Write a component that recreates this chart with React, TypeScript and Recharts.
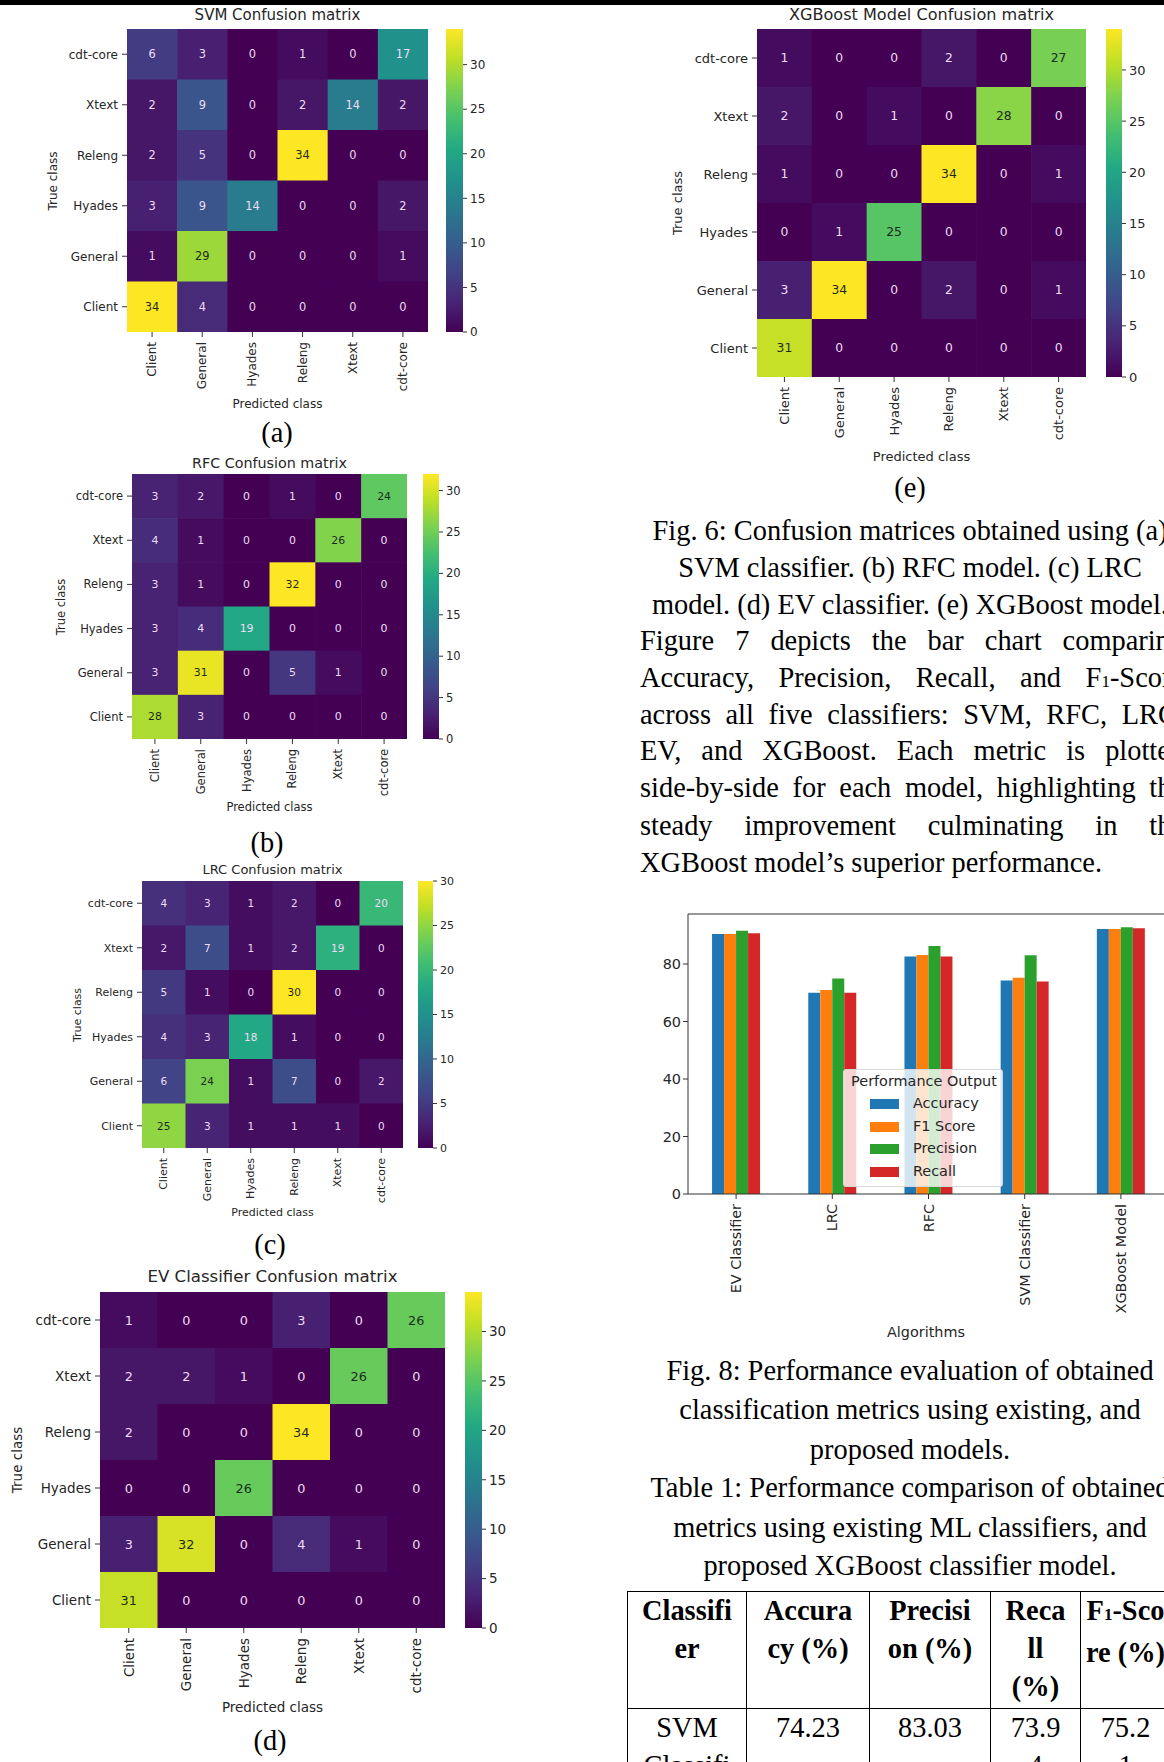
import React from 'react';
import { ScatterChart, Scatter, XAxis, YAxis, BarChart, Bar, ReferenceLine, Legend } from 'recharts';

// class order along the predicted axis (left to right) and the true axis (bottom to top)
const classes = ['Client', 'General', 'Hyades', 'Releng', 'Xtext', 'cdt-core'];

// confusion matrices, rows from top to bottom: cdt-core, Xtext, Releng, Hyades, General, Client
const svmMatrix = [
    [6, 3, 0, 1, 0, 17],
    [2, 9, 0, 2, 14, 2],
    [2, 5, 0, 34, 0, 0],
    [3, 9, 14, 0, 0, 2],
    [1, 29, 0, 0, 0, 1],
    [34, 4, 0, 0, 0, 0],
];
const rfcMatrix = [
    [3, 2, 0, 1, 0, 24],
    [4, 1, 0, 0, 26, 0],
    [3, 1, 0, 32, 0, 0],
    [3, 4, 19, 0, 0, 0],
    [3, 31, 0, 5, 1, 0],
    [28, 3, 0, 0, 0, 0],
];
const lrcMatrix = [
    [4, 3, 1, 2, 0, 20],
    [2, 7, 1, 2, 19, 0],
    [5, 1, 0, 30, 0, 0],
    [4, 3, 18, 1, 0, 0],
    [6, 24, 1, 7, 0, 2],
    [25, 3, 1, 1, 1, 0],
];
const evMatrix = [
    [1, 0, 0, 3, 0, 26],
    [2, 2, 1, 0, 26, 0],
    [2, 0, 0, 34, 0, 0],
    [0, 0, 26, 0, 0, 0],
    [3, 32, 0, 4, 1, 0],
    [31, 0, 0, 0, 0, 0],
];
const xgbMatrix = [
    [1, 0, 0, 2, 0, 27],
    [2, 0, 1, 0, 28, 0],
    [1, 0, 0, 34, 0, 1],
    [0, 1, 25, 0, 0, 0],
    [3, 34, 0, 2, 0, 1],
    [31, 0, 0, 0, 0, 0],
];

// bar chart (Fig. 8)
const algorithms = ['EV Classifier', 'LRC', 'RFC', 'SVM Classifier', 'XGBoost Model'];
const accuracy = [90.4, 70.0, 82.6, 74.23, 92.2];
const f1Score = [90.4, 71.0, 83.1, 75.21, 92.2];
const precision = [91.6, 75.0, 86.3, 83.03, 92.8];
const recall = [90.7, 70.0, 82.6, 73.94, 92.4];

// table 1 (visible part)
const tableHeader = [['Classifi', 'er'], ['Accura', 'cy (%)'], ['Precisi', 'on (%)'], ['Reca', 'll', '(%)'], ['F₁-Sco', 're (%)']];
const tableRow = [['SVM', 'Classifi', 'er'], ['74.23'], ['83.03'], ['73.9', '4'], ['75.2', '1']];

const SANS = '"DejaVu Sans", sans-serif';
const SERIF = '"Liberation Serif", "Times New Roman", serif';
const INK = '#262626';

const VIRIDIS = ['#440154', '#482475', '#414487', '#355f8d', '#2a788e', '#21918c', '#22a884', '#44bf70', '#7ad151', '#bddf26', '#fde725'];

const hex = (c: string) => [1, 3, 5].map((i) => parseInt(c.slice(i, i + 2), 16));

function viridis(t: number) {
    const s = Math.max(0, Math.min(1, t)) * 10;
    const i = Math.min(9, Math.floor(s));
    const f = s - i;
    const a = hex(VIRIDIS[i]);
    const b = hex(VIRIDIS[i + 1]);
    return a.map((v, k) => Math.round(v + (b[k] - v) * f));
}

function luminance(rgb: number[]) {
    const lin = rgb.map((v) => {
        const c = v / 255;
        return c <= 0.03928 ? c / 12.92 : Math.pow((c + 0.055) / 1.055, 2.4);
    });
    return 0.2126 * lin[0] + 0.7152 * lin[1] + 0.0722 * lin[2];
}

const idx = [0, 1, 2, 3, 4, 5];

const HeatCell = (props: any) => {
    const { cx, cy, cw, ch, vmax, fs, payload } = props;
    const rgb = viridis(payload.v / vmax);
    const dark = luminance(rgb) > 0.408;
    return (
        <g>
            <rect x={cx - cw / 2} y={cy - ch / 2} width={cw + 0.6} height={ch + 0.6} fill={`rgb(${rgb.join(',')})`} />
            <text x={cx} y={cy} textAnchor="middle" dominantBaseline="central" fontSize={fs} fontFamily={SANS} fill={dark ? '#1e2b1e' : '#f0dcf6'}>
                {payload.v}
            </text>
        </g>
    );
};

const RotTick = (props: any) => {
    const { x, y, payload, fs, fmt } = props;
    return (
        <text x={x} y={y} transform={`rotate(-90 ${x} ${y})`} textAnchor="end" dominantBaseline="central" fontSize={fs} fontFamily={SANS} fill={INK}>
            {fmt(payload.value)}
        </text>
    );
};

type PanelCfg = {
    id: string; title: string; matrix: number[][]; vmax: number;
    x: number; y: number; w: number; h: number; cbx: number; cbw: number;
    tf: number; fs: number; ylx: number; ty: number; py: number;
};

const panels: PanelCfg[] = [
    { id: 'svm', title: 'SVM Confusion matrix', matrix: svmMatrix, vmax: 34, x: 127, y: 29, w: 301, h: 303, cbx: 446, cbw: 17, tf: 15, fs: 12, ylx: 53, ty: 15, py: 404 },
    { id: 'rfc', title: 'RFC Confusion matrix', matrix: rfcMatrix, vmax: 32, x: 132, y: 474, w: 275, h: 265, cbx: 423, cbw: 16, tf: 14.3, fs: 11.5, ylx: 62, ty: 463, py: 808 },
    { id: 'lrc', title: 'LRC Confusion matrix', matrix: lrcMatrix, vmax: 30, x: 142, y: 881, w: 261, h: 267, cbx: 418, cbw: 15, tf: 13, fs: 11, ylx: 77, ty: 869, py: 1212 },
    { id: 'ev', title: 'EV Classifier Confusion matrix', matrix: evMatrix, vmax: 34, x: 100, y: 1292, w: 345, h: 336, cbx: 465, cbw: 17, tf: 16.6, fs: 13.5, ylx: 18, ty: 1277, py: 1708 },
    { id: 'xgb', title: 'XGBoost Model Confusion matrix', matrix: xgbMatrix, vmax: 34, x: 757, y: 29, w: 329, h: 348, cbx: 1106, cbw: 16, tf: 16.1, fs: 13, ylx: 677, ty: 15, py: 456 },
];

const Label = ({ x, y, size, rotate, children }: any) => (
    <div style={{
        position: 'absolute', left: x, top: y, transform: `translate(-50%, -50%)${rotate ? ' rotate(-90deg)' : ''}`,
        fontSize: size, fontFamily: SANS, color: INK, whiteSpace: 'nowrap', lineHeight: 1,
    }}>{children}</div>
);

const ColorBar = ({ id, x, y, w, h, vmax, fs }: any) => {
    const ticks = [0, 5, 10, 15, 20, 25, 30].filter((t) => t <= vmax);
    const pad = 10;
    return (
        <div style={{ position: 'absolute', left: x, top: y - pad }}>
            <BarChart width={w + 40} height={h + 2 * pad} data={[{ k: 'cb', v: vmax }]} margin={{ top: pad, right: 0, bottom: pad, left: 0 }} barCategoryGap={0}>
                <XAxis dataKey="k" hide />
                <YAxis orientation="right" type="number" width={40} domain={[0, vmax]} allowDataOverflow ticks={ticks} interval={0}
                    axisLine={false} tickSize={4} tickMargin={3} tickLine={{ stroke: '#333' }}
                    tick={{ fontSize: fs, fill: INK, fontFamily: SANS }} />
                <Bar dataKey="v" isAnimationActive={false} shape={(p: any) => (
                    <g>
                        <defs>
                            <linearGradient id={`grad-${id}`} x1="0" y1="1" x2="0" y2="0">
                                {VIRIDIS.map((c, i) => <stop key={i} offset={i / 10} stopColor={c} />)}
                            </linearGradient>
                        </defs>
                        <rect x={p.x} y={p.y} width={p.width} height={p.height} fill={`url(#grad-${id})`} />
                    </g>
                )} />
            </BarChart>
        </div>
    );
};

const ML = 90, MT = 2, MB = 80, MR = 2;

const Heatmap = ({ cfg }: { cfg: PanelCfg }) => {
    const cw = cfg.w / 6;
    const ch = cfg.h / 6;
    const cells: { x: number; y: number; v: number }[] = [];
    cfg.matrix.forEach((row, r) => row.forEach((v, c) => cells.push({ x: c, y: 5 - r, v })));
    const midX = cfg.x + cfg.w / 2;
    return (
        <>
            <div style={{ position: 'absolute', left: cfg.x - ML, top: cfg.y - MT }}>
                <ScatterChart width={cfg.w + ML + MR} height={cfg.h + MT + MB} margin={{ top: MT, right: MR, bottom: 0, left: 0 }}>
                    <XAxis type="number" dataKey="x" domain={[-0.5, 5.5]} allowDataOverflow ticks={idx} interval={0} height={MB}
                        axisLine={false} tickSize={5} tickMargin={5} tickLine={{ stroke: '#333' }}
                        tick={(p: any) => <RotTick {...p} fs={cfg.fs} fmt={(v: number) => classes[v]} />} />
                    <YAxis type="number" dataKey="y" domain={[-0.5, 5.5]} allowDataOverflow ticks={idx} interval={0} width={ML}
                        axisLine={false} tickSize={5} tickMargin={4} tickLine={{ stroke: '#333' }}
                        tick={{ fontSize: cfg.fs, fill: INK, fontFamily: SANS }} tickFormatter={(v: number) => classes[v]} />
                    <Scatter data={cells} isAnimationActive={false}
                        shape={(p: any) => <HeatCell {...p} cw={cw} ch={ch} vmax={cfg.vmax} fs={cfg.fs * 0.95} />} />
                </ScatterChart>
            </div>
            <ColorBar id={cfg.id} x={cfg.cbx} y={cfg.y} w={cfg.cbw} h={cfg.h} vmax={cfg.vmax} fs={cfg.fs} />
            <Label x={midX} y={cfg.ty} size={cfg.tf}>{cfg.title}</Label>
            <Label x={midX} y={cfg.py} size={cfg.fs}>Predicted class</Label>
            <Label x={cfg.ylx} y={cfg.y + cfg.h / 2} size={cfg.fs} rotate>True class</Label>
        </>
    );
};

const series = [
    { key: 'acc', name: 'Accuracy', color: '#1f77b4' },
    { key: 'f1', name: 'F1 Score', color: '#ff7f0e' },
    { key: 'prec', name: 'Precision', color: '#2ca02c' },
    { key: 'rec', name: 'Recall', color: '#d62728' },
];

const barData = algorithms.map((name, i) => ({ name, acc: accuracy[i], f1: f1Score[i], prec: precision[i], rec: recall[i] }));

const BarTick = (props: any) => {
    const { x, y, payload } = props;
    return (
        <text x={x} y={y + 3} transform={`rotate(-90 ${x} ${y + 3})`} textAnchor="end" dominantBaseline="central" fontSize={14.4} fontFamily={SANS} fill={INK}>
            {payload.value}
        </text>
    );
};

const renderLegend = () => (
    <div style={{ position: 'relative', width: 160, height: 118, boxSizing: 'border-box', background: 'rgba(255,255,255,0.8)', border: '1px solid #d8d8d8', borderRadius: 3, fontFamily: SANS, fontSize: 14.4, color: INK }}>
        <div style={{ position: 'absolute', left: 0, width: 160, top: 3, lineHeight: '17px', textAlign: 'center', whiteSpace: 'nowrap' }}>Performance Output</div>
        {series.map((s, i) => (
            <React.Fragment key={s.key}>
                <div style={{ position: 'absolute', left: 26, top: 29 + i * 22.7, width: 29, height: 10, background: s.color }} />
                <div style={{ position: 'absolute', left: 69, top: 25 + i * 22.7, lineHeight: '17px', whiteSpace: 'nowrap' }}>{s.name}</div>
            </React.Fragment>
        ))}
    </div>
);

const Y_TOP = 97.4;

const PerformanceChart = () => (
    <>
        <div style={{ position: 'absolute', left: 638, top: 904 }}>
            <BarChart width={50 + 481 + 10} height={10 + 280 + 140} data={barData} margin={{ top: 10, right: 10, bottom: 0, left: 0 }} barCategoryGap="25%" barGap={0}>
                <XAxis dataKey="name" interval={0} height={140} tickSize={5} tickLine={{ stroke: '#333' }} axisLine={{ stroke: '#333' }} tick={<BarTick />} />
                <YAxis width={50} type="number" domain={[0, Y_TOP]} allowDataOverflow ticks={[0, 20, 40, 60, 80]} interval={0} tickSize={5}
                    axisLine={{ stroke: '#333' }} tickLine={{ stroke: '#333' }} tick={{ fontSize: 14.4, fill: INK, fontFamily: SANS }} />
                <ReferenceLine y={Y_TOP} stroke="#333" ifOverflow="visible" />
                {series.map((s) => (
                    <Bar key={s.key} dataKey={s.key} name={s.name} fill={s.color} isAnimationActive={false} />
                ))}
                <Legend layout="vertical" align="center" verticalAlign="middle" content={renderLegend}
                    wrapperStyle={{ left: 205, top: 165, width: 160, height: 118 }} />
            </BarChart>
        </div>
        <Label x={926} y={1332} size={14.4}>Algorithms</Label>
    </>
);

const withSub = (s: string) => {
    const parts = s.split('₁');
    return parts.map((p, i) => (
        <React.Fragment key={i}>
            {p}
            {i < parts.length - 1 && <span style={{ fontSize: '0.6em' }}>1</span>}
        </React.Fragment>
    ));
};

const serifText: React.CSSProperties = { position: 'absolute', fontFamily: SERIF, fontSize: 28.4, lineHeight: '40px', color: '#000', whiteSpace: 'nowrap' };

const Centered = ({ x, yc, children }: any) => (
    <div style={{ ...serifText, left: x - 400, width: 800, top: yc - 22, textAlign: 'center' }}>{children}</div>
);

const Justified = ({ yc, children, last }: any) => (
    <div style={{ ...serifText, left: 640, width: 544, top: yc - 22, whiteSpace: 'normal', textAlign: last ? 'left' : 'justify', textAlignLast: last ? 'left' : 'justify' } as React.CSSProperties}>{children}</div>
);

const cellStyle: React.CSSProperties = { border: '1.5px solid #000', verticalAlign: 'top', padding: 0, lineHeight: '38px', textAlign: 'center', whiteSpace: 'nowrap', overflow: 'hidden' };
const colW = [119, 123, 121, 90, 90];

const App: React.FC = () => {
    return (
        <div style={{ position: 'absolute', left: 0, top: 0, width: 1164, height: 1762, overflow: 'hidden', background: '#fff' }}>
            <div style={{ position: 'absolute', left: 0, top: 0, width: 1164, height: 5, background: '#000' }} />

            {panels.map((p) => <Heatmap key={p.id} cfg={p} />)}

            <Centered x={277} yc={435}>(a)</Centered>
            <Centered x={267} yc={845}>(b)</Centered>
            <Centered x={270} yc={1247}>(c)</Centered>
            <Centered x={270} yc={1743}>(d)</Centered>
            <Centered x={910} yc={490}>(e)</Centered>

            <Centered x={910} yc={533}>Fig. 6: Confusion matrices obtained using (a)</Centered>
            <Centered x={910} yc={570}>SVM classifier. (b) RFC model. (c) LRC</Centered>
            <Centered x={910} yc={607}>model. (d) EV classifier. (e) XGBoost model.</Centered>

            <Justified yc={643}>Figure 7 depicts the bar chart comparing</Justified>
            <Justified yc={680}>Accuracy, Precision, Recall, and {withSub('F₁-Score')}</Justified>
            <Justified yc={717}>across all five classifiers: SVM, RFC, LRC,</Justified>
            <Justified yc={753}>EV, and XGBoost. Each metric is plotted</Justified>
            <Justified yc={790}>side-by-side for each model, highlighting the</Justified>
            <Justified yc={828}>steady improvement culminating in the</Justified>
            <Justified yc={865} last>XGBoost model’s superior performance.</Justified>

            <PerformanceChart />

            <Centered x={910} yc={1373}>Fig. 8: Performance evaluation of obtained</Centered>
            <Centered x={910} yc={1412}>classification metrics using existing, and</Centered>
            <Centered x={910} yc={1452}>proposed models.</Centered>
            <Centered x={910} yc={1490}>Table 1: Performance comparison of obtained</Centered>
            <Centered x={910} yc={1530}>metrics using existing ML classifiers, and</Centered>
            <Centered x={910} yc={1568}>proposed XGBoost classifier model.</Centered>

            <table style={{ position: 'absolute', left: 627, top: 1591, width: colW.reduce((a, b) => a + b, 0), borderCollapse: 'collapse', tableLayout: 'fixed', fontFamily: SERIF, fontSize: 28.4, color: '#000' }}>
                <colgroup>{colW.map((w, i) => <col key={i} style={{ width: w }} />)}</colgroup>
                <tbody>
                    <tr style={{ height: 117 }}>
                        {tableHeader.map((lines, i) => (
                            <th key={i} style={{ ...cellStyle, fontWeight: 'bold' }}>{lines.map((l, j) => <div key={j}>{withSub(l)}</div>)}</th>
                        ))}
                    </tr>
                    <tr style={{ height: 117 }}>
                        {tableRow.map((lines, i) => (
                            <td key={i} style={cellStyle}>{lines.map((l, j) => <div key={j}>{l}</div>)}</td>
                        ))}
                    </tr>
                </tbody>
            </table>
        </div>
    );
};

export default App;
